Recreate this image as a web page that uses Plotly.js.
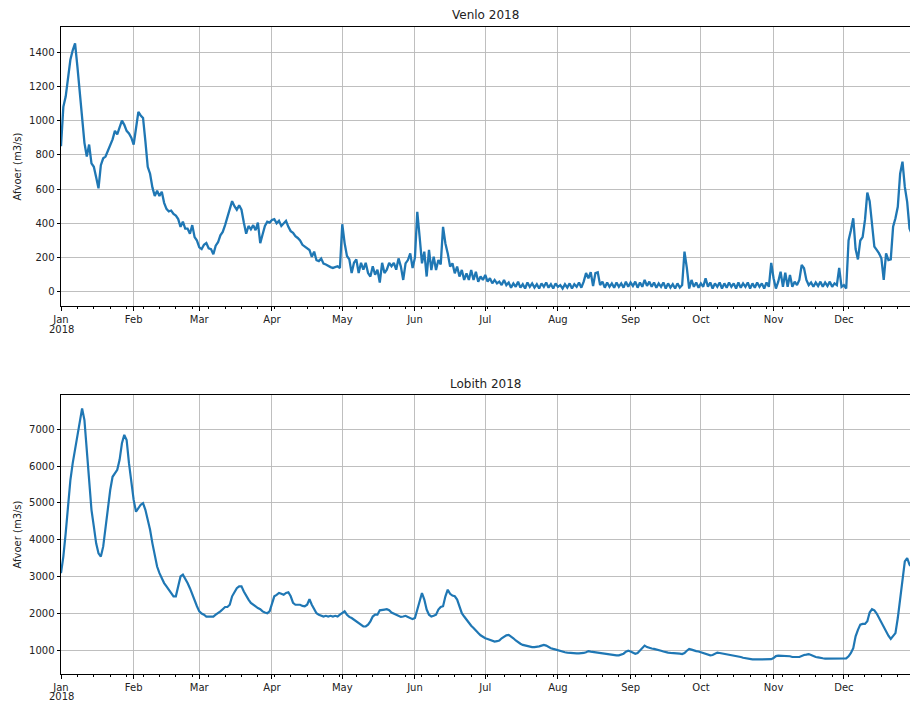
<!DOCTYPE html>
<html>
<head>
<meta charset="utf-8">
<script src="https://cdn.plot.ly/plotly-3.0.1.min.js"></script>
<style>
  html, body { margin: 0; padding: 0; background: #fff; }
  #chart { width: 910px; height: 701px; }
</style>
</head>
<body>
<div id="chart"></div>
<script>
// ---- data (daily readings, Jan 1 2018 onward) ----
const venloTitle = 'Venlo 2018';
const lobithTitle = 'Lobith 2018';
const yTitle = 'Afvoer (m3/s)';
const yearLabel = '2018';

const venlo = [
  850,1080,1140,1240,1355,1410,1450,1315,1160,1005,
  870,790,860,750,730,670,605,740,780,790,
  820,860,890,940,920,960,1000,975,940,925,
  900,860,950,1050,1030,1015,880,730,690,610,
  560,590,560,585,520,485,470,475,455,445,
  425,380,410,370,370,340,390,320,300,260,
  250,275,285,255,250,220,270,290,330,350,
  390,440,480,530,500,480,505,480,405,340,
  385,365,390,360,405,285,335,385,410,405,
  420,425,400,415,385,400,415,380,355,345,
  325,315,300,275,265,250,245,205,235,185,
  180,195,165,160,150,145,140,145,150,140,
  395,285,210,190,110,170,190,110,170,130,
  170,110,90,150,100,130,55,170,110,130,
  170,150,170,130,196,148,70,167,186,225,
  140,200,468,322,167,235,90,245,128,206,
  128,186,160,380,283,225,148,167,109,148,
  90,128,70,109,70,128,70,118,60,90,
  70,99,60,80,50,70,50,60,40,70,
  40,55,25,50,30,60,25,45,20,55,
  30,50,25,45,20,50,30,55,25,45,
  20,50,30,40,20,45,25,50,20,45,
  30,55,25,60,110,80,115,35,110,115,
  40,60,25,55,30,50,25,55,30,50,
  25,60,30,55,35,60,25,55,30,70,
  35,60,30,55,25,50,30,55,20,50,
  25,45,20,50,25,40,235,140,20,70,
  30,55,25,50,30,80,30,55,20,50,
  30,55,20,50,25,55,30,50,20,55,
  25,50,30,55,20,50,25,55,30,50,
  20,55,30,170,80,20,60,118,30,113,
  30,99,30,60,40,70,157,138,70,40,
  55,30,55,35,60,30,55,35,60,30,
  50,40,140,30,40,20,300,360,430,250,
  190,300,320,420,580,530,400,265,245,225,
  196,70,225,186,190,380,430,497,690,760,
  613,526,371,330,300
];

const lobith = [
  3090,3540,4180,4990,5620,6080,6440,6890,7250,7570,
  7250,6440,5620,4810,4360,3900,3630,3540,3810,4360,
  4900,5350,5710,5800,5900,6170,6620,6850,6710,6080,
  5530,5080,4760,4860,4950,4990,4810,4540,4270,3900,
  3590,3270,3090,2950,2820,2730,2640,2550,2460,2460,
  2730,3000,3050,2950,2820,2680,2500,2370,2190,2050,
  1990,1960,1910,1910,1900,1910,1960,2000,2050,2110,
  2170,2170,2230,2460,2590,2680,2730,2730,2590,2460,
  2370,2280,2230,2170,2140,2110,2050,2020,2000,2050,
  2280,2460,2500,2550,2530,2500,2550,2570,2460,2280,
  2230,2230,2230,2200,2190,2230,2380,2230,2100,2000,
  1960,1930,1910,1930,1910,1930,1910,1930,1910,1960,
  2000,2050,1960,1900,1870,1820,1780,1730,1690,1640,
  1640,1690,1780,1910,1960,1960,2080,2080,2100,2110,
  2080,2020,1990,1960,1930,1900,1910,1930,1900,1870,
  1840,1870,2100,2370,2550,2370,2100,1960,1910,1930,
  1960,2100,2170,2190,2460,2640,2530,2480,2460,2370,
  2170,2000,1910,1820,1730,1660,1600,1520,1460,1400,
  1350,1320,1300,1280,1250,1230,1240,1260,1320,1370,
  1400,1410,1370,1320,1260,1210,1170,1140,1120,1100,
  1100,1080,1080,1080,1100,1120,1140,1120,1080,1050,
  1030,1010,990,960,955,940,930,920,910,910,
  910,910,910,920,940,970,955,945,940,940,
  920,900,890,890,880,875,865,855,855,875,
  900,955,980,960,920,900,920,980,1050,1120,
  1080,1050,1040,1030,1020,1010,980,960,955,930,
  920,920,920,910,900,890,920,980,1030,1010,
  980,970,960,940,920,890,875,855,865,910,
  930,920,910,900,890,875,865,845,835,830,
  810,790,775,755,745,745,745,745,745,745,
  745,745,745,750,780,835,845,845,845,845,
  835,830,810,800,810,810,845,865,875,890,
  865,830,810,800,780,775,765,765,755,755,
  755,755,755,755,755,775,830,920,1050,1370,
  1550,1690,1710,1710,1780,2020,2110,2080,1990,1870,
  1730,1620,1510,1390,1300,1370,1460,1870,2370,3000,
  3410,3500,3320,3250,3200
];

const monthTicks = ['2018-01-01','2018-02-01','2018-03-01','2018-04-01','2018-05-01','2018-06-01',
                    '2018-07-01','2018-08-01','2018-09-01','2018-10-01','2018-11-01','2018-12-01'];
const monthLabels = ['Jan','Feb','Mar','Apr','May','Jun','Jul','Aug','Sep','Oct','Nov','Dec'];
const venloTicks = [0,200,400,600,800,1000,1200,1400];
const lobithTicks = [1000,2000,3000,4000,5000,6000,7000];

// ---- build daily timestamps ----
function dayStamps(n) {
  const out = [];
  const t0 = Date.UTC(2018, 0, 1);
  for (let i = 0; i < n; i++) {
    const d = new Date(t0 + i * 86400000);
    out.push(d.toISOString().slice(0, 10));
  }
  return out;
}
const venloDates = dayStamps(venlo.length);
const lobithDates = dayStamps(lobith.length);

const lineColor = '#1f77b4';
const FONT = 'DejaVu Sans, sans-serif';

const traces = [
  { x: venloDates, y: venlo, type: 'scatter', mode: 'lines', xaxis: 'x', yaxis: 'y',
    line: { color: lineColor, width: 2.3 }, hoverinfo: 'x+y' },
  { x: lobithDates, y: lobith, type: 'scatter', mode: 'lines', xaxis: 'x2', yaxis: 'y2',
    line: { color: lineColor, width: 2.2 }, hoverinfo: 'x+y' }
];

const xRange = ['2018-01-01 00:00', '2018-12-29 05:00'];
const xBase = {
  type: 'date', range: xRange, tickmode: 'array', tickvals: monthTicks, ticktext: monthLabels,
  ticks: 'outside', ticklen: 3.5, tickwidth: 1, tickcolor: '#000',
  showline: true, linecolor: '#000', linewidth: 1, mirror: true,
  showgrid: true, gridcolor: '#b8b8b8', gridwidth: 0.9, zeroline: false,
  tickfont: { family: FONT, size: 10, color: '#222' }, automargin: false,
  minor: { tick0: '2018-01-01', dtick: 7 * 86400000, ticks: 'outside', ticklen: 2,
           tickwidth: 1, tickcolor: '#000', showgrid: false },
  domain: [61 / 910, 1]
};
const yBase = {
  tickmode: 'array', ticks: 'outside', ticklen: 3.5, tickwidth: 1, tickcolor: '#000',
  showline: true, linecolor: '#000', linewidth: 1, mirror: false,
  showgrid: true, gridcolor: '#b8b8b8', gridwidth: 0.9, zeroline: false,
  tickfont: { family: FONT, size: 10, color: '#222' }, automargin: false
};

const annFont = { family: FONT, size: 10, color: '#222' };
const layout = {
  width: 910, height: 701,
  margin: { l: 0, r: 0, t: 0, b: 0 },
  paper_bgcolor: '#fff', plot_bgcolor: '#fff',
  showlegend: false,
  font: { family: FONT, size: 10, color: '#222' },
  xaxis: Object.assign({}, xBase, { anchor: 'y' }),
  xaxis2: Object.assign({}, xBase, { anchor: 'y2' }),
  yaxis: Object.assign({}, yBase, {
    anchor: 'x', range: [-82, 1546], tickvals: venloTicks,
    domain: [1 - 306 / 701, 1 - 27 / 701],
    title: { text: yTitle, font: { family: FONT, size: 10, color: '#222' }, standoff: 5 }
  }),
  yaxis2: Object.assign({}, yBase, {
    anchor: 'x2', range: [348, 7933], tickvals: lobithTicks,
    domain: [1 - 674 / 701, 1 - 395 / 701],
    title: { text: yTitle, font: { family: FONT, size: 10, color: '#222' }, standoff: 5 }
  }),
  annotations: [
    { text: venloTitle, xref: 'x domain', yref: 'y domain', x: 0.5, y: 1, yanchor: 'bottom',
      xanchor: 'center', yshift: 3, showarrow: false, font: { family: FONT, size: 12, color: '#222' } },
    { text: lobithTitle, xref: 'x2 domain', yref: 'y2 domain', x: 0.5, y: 1, yanchor: 'bottom',
      xanchor: 'center', yshift: 2, showarrow: false, font: { family: FONT, size: 12, color: '#222' } },
    { text: yearLabel, xref: 'x', yref: 'y domain', x: monthTicks[0], y: 0, yanchor: 'top',
      xanchor: 'center', yshift: -17, borderpad: 0, showarrow: false, font: annFont },
    { text: yearLabel, xref: 'x2', yref: 'y2 domain', x: monthTicks[0], y: 0, yanchor: 'top',
      xanchor: 'center', yshift: -16, borderpad: 0, showarrow: false, font: annFont }
  ]
};

Plotly.newPlot('chart', traces, layout, { displayModeBar: false, staticPlot: true });
</script>
</body>
</html>
